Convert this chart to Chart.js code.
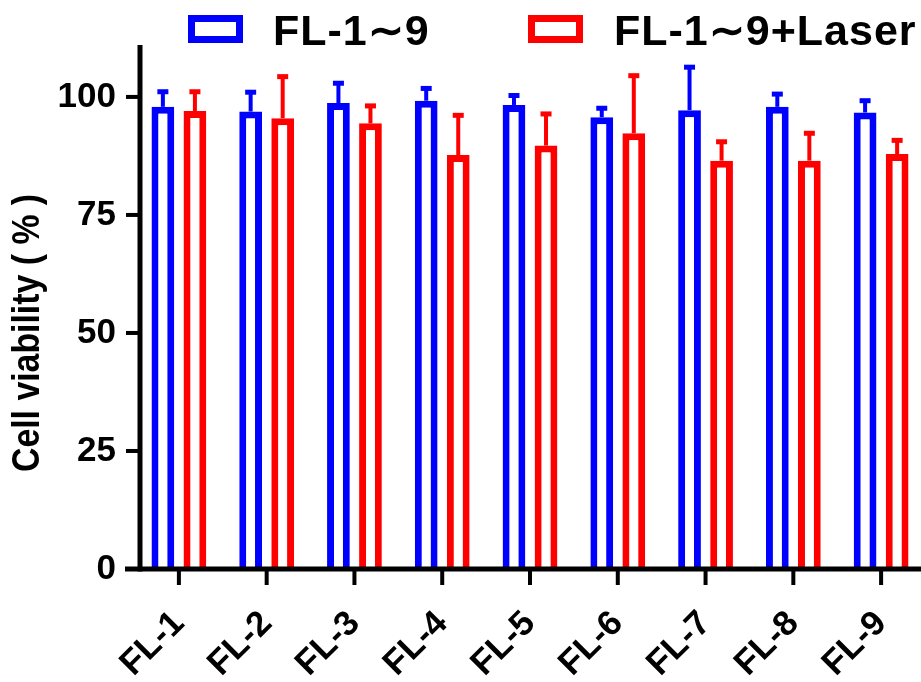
<!DOCTYPE html>
<html>
<head>
<meta charset="utf-8">
<script src="https://cdn.jsdelivr.net/npm/chart.js@4.4.1/dist/chart.umd.min.js"></script>
<style>
  html, body { margin: 0; padding: 0; background: #fff; overflow: hidden; }
  #wrap { width: 921px; height: 682px; overflow: hidden; }
</style>
</head>
<body>
<div id="wrap"><canvas id="viability" width="925" height="682"></canvas></div>
<script>
// groups and measured viability (mean and SD, %)
const categories = ['FL-1', 'FL-2', 'FL-3', 'FL-4', 'FL-5', 'FL-6', 'FL-7', 'FL-8', 'FL-9'];
const darkMeans = [97.9, 96.9, 98.7, 99.2, 98.3, 95.7, 97.2, 97.9, 96.7];
const darkSD = [3.2, 4.1, 4.2, 2.6, 2.0, 1.9, 9.1, 2.7, 2.5];
const laserMeans = [97.0, 95.5, 94.4, 87.7, 89.7, 92.3, 86.5, 86.5, 87.9];
const laserSD = [4.1, 8.8, 3.7, 8.4, 6.7, 12.2, 4.0, 5.8, 2.9];
const yTicks = [0, 25, 50, 75, 100];
const seriesNames = ['FL-1\u223C9', 'FL-1\u223C9+Laser'];
const seriesColors = ['#0000ff', '#ff0000'];

const FONT = '"Liberation Sans", Arial, sans-serif';

// SD bars, upper half only
const errorBars = {
    id: 'errorBars',
    afterDatasetsDraw(chart) {
        const ctx = chart.ctx;
        const yScale = chart.scales.y;
        chart.data.datasets.forEach((ds, di) => {
            const meta = chart.getDatasetMeta(di);
            meta.data.forEach((bar, i) => {
                const top = yScale.getPixelForValue(ds.data[i] + ds.errors[i]);
                ctx.save();
                ctx.fillStyle = ds.borderColor;
                ctx.fillRect(bar.x - 2, top, 4, bar.y - top);
                ctx.fillRect(bar.x - 5.5, top - 2.5, 11, 5);
                ctx.restore();
            });
        });
    }
};

// axis lines, tick marks, y title and legend
const frame = {
    id: 'frame',
    afterDraw(chart) {
        const { ctx, chartArea, scales: { x, y } } = chart;
        const axisX = chartArea.left + 5;
        const base = y.getPixelForValue(0);
        ctx.save();
        ctx.fillStyle = '#000';
        ctx.fillRect(axisX - 2.5, chartArea.top, 5, base - chartArea.top + 2.5);
        yTicks.forEach(v => {
            const py = y.getPixelForValue(v);
            ctx.fillRect(axisX - 14, py - 2, 14, 4);
        });
        ctx.fillRect(axisX - 15, base - 2.5, chart.width, 5);
        categories.forEach((c, i) => {
            const px = x.getPixelForValue(i);
            ctx.fillRect(px - 2, base, 4, 16);
        });

        // y title
        ctx.save();
        ctx.translate(29, y.getPixelForValue(50));
        ctx.rotate(-Math.PI / 2);
        ctx.scale(0.89, 1);
        ctx.font = 'bold 38px ' + FONT;
        ctx.textAlign = 'center';
        ctx.textBaseline = 'middle';
        ctx.fillText('Cell viability ( % )', 0, 0);
        ctx.restore();

        // legend
        const boxes = [191.5, 531.5];
        const texts = [273, 614];
        ctx.font = 'bold 43px ' + FONT;
        ctx.letterSpacing = '1px';
        ctx.textBaseline = 'alphabetic';
        ctx.textAlign = 'left';
        seriesNames.forEach((name, i) => {
            ctx.strokeStyle = seriesColors[i];
            ctx.lineWidth = 7;
            ctx.strokeRect(boxes[i], 18.5, 48, 21);
            ctx.fillStyle = '#000';
            ctx.fillText(name, texts[i], 45);
        });
        ctx.restore();
    }
};

new Chart(document.getElementById('viability'), {
    type: 'bar',
    data: {
        labels: categories,
        datasets: [
            {
                label: seriesNames[0],
                data: darkMeans,
                errors: darkSD,
                backgroundColor: '#ffffff',
                borderColor: seriesColors[0],
                borderWidth: 7,
                categoryPercentage: 0.73,
                barPercentage: 0.71,
            },
            {
                label: seriesNames[1],
                data: laserMeans,
                errors: laserSD,
                backgroundColor: '#ffffff',
                borderColor: seriesColors[1],
                borderWidth: 7,
                categoryPercentage: 0.73,
                barPercentage: 0.71,
            },
        ],
    },
    options: {
        responsive: false,
        animation: false,
        layout: { padding: { top: 45, left: 0, right: 0, bottom: 0 } },
        plugins: {
            legend: { display: false },
            tooltip: { enabled: false },
        },
        scales: {
            x: {
                grid: { display: false, drawTicks: false },
                border: { display: false },
                ticks: {
                    color: '#000',
                    font: { family: FONT, weight: 'bold', size: 35 },
                    minRotation: 45,
                    maxRotation: 45,
                    autoSkip: false,
                    padding: 34,
                },
                afterFit: scale => {
                    scale.height = 113;
                    scale.paddingLeft = 0;
                    scale.paddingRight = 0;
                },
            },
            y: {
                min: 0,
                max: 111,
                grid: { display: false, drawTicks: false },
                border: { display: false },
                ticks: {
                    color: '#000',
                    font: { family: FONT, weight: 'bold', size: 35 },
                    padding: 19,
                },
                afterBuildTicks: scale => {
                    scale.ticks = yTicks.map(v => ({ value: v }));
                },
                afterFit: scale => { scale.width = 135; },
            },
        },
    },
    plugins: [errorBars, frame],
});
</script>
</body>
</html>
